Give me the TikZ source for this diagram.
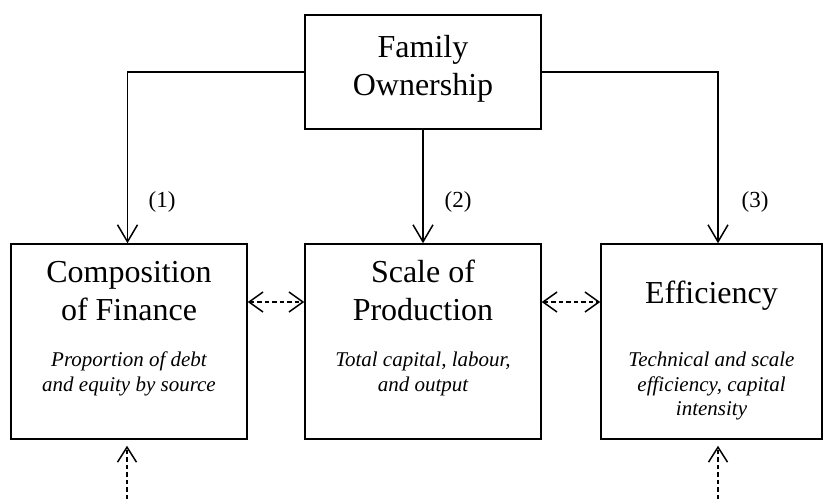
\documentclass[tikz,border=0pt]{standalone}
\usepackage{fontspec}
\setmainfont{Liberation Serif}
\usetikzlibrary{arrows.meta}
\tikzset{
  box/.style={draw, line width=1.5pt, rectangle, inner sep=0pt},
  ttl/.style={anchor=base, inner sep=0pt, font=\fontsize{32}{36.5}\selectfont},
  sub/.style={anchor=base, inner sep=0pt, font=\fontsize{21}{24.4}\selectfont\itshape},
  lbl/.style={anchor=base, inner sep=0pt, font=\fontsize{23}{26}\selectfont},
  arr/.style={line width=1.5pt, -{Straight Barb[length=17pt,width=20pt,line width=1.5pt]}},
  darr/.style={line width=1.5pt, dash pattern=on 4.5pt off 3pt, {Straight Barb[length=14pt,width=20pt,line width=1.5pt]}-{Straight Barb[length=14pt,width=20pt,line width=1.5pt]}},
  uarr/.style={line width=1.5pt, dash pattern=on 4.5pt off 3pt, -{Straight Barb[length=15pt,width=19pt,line width=1.5pt]}}
}
\begin{document}
\begin{tikzpicture}[x=1pt,y=-1pt]
\useasboundingbox (0,0) rectangle (824,499);
% boxes
\node[box, minimum width=236pt, minimum height=114pt] (fam) at (423,72) {};
\node[box, minimum width=236pt, minimum height=195pt] (comp) at (129,341.5) {};
\node[box, minimum width=236pt, minimum height=195pt] (scl) at (423,341.5) {};
\node[box, minimum width=221pt, minimum height=195pt] (eff) at (711.5,341.5) {};
% texts
\node[ttl] (fam1) at (423,57) {Family};
\node[ttl] (fam2) at (423,95) {Ownership};
\node[ttl] (comp1) at (129,282) {Composition};
\node[ttl] (comp2) at (129,320) {of Finance};
\node[sub] (comp3) at (129,366) {Proportion of debt};
\node[sub] (comp4) at (129,391) {and equity by source};
\node[ttl] (scl1) at (423,282) {Scale of};
\node[ttl] (scl2) at (423,320) {Production};
\node[sub] (scl3) at (423,366) {Total capital, labour,};
\node[sub] (scl4) at (423,391) {and output};
\node[ttl] (eff1) at (711.5,303) {Efficiency};
\node[sub] (eff2) at (711.5,366) {Technical and scale};
\node[sub] (eff3) at (711.5,391) {efficiency, capital};
\node[sub] (eff4) at (711.5,415) {intensity};
% labels
\node[lbl] (l1) at (162,207) {(1)};
\node[lbl] (l2) at (458,207) {(2)};
\node[lbl] (l3) at (755,207) {(3)};
% arrows from family
\draw[arr] (fam.west) -| ([xshift=-1.5pt]comp.north);
\draw[arr] (fam.south) -- (scl.north);
\draw[arr] (fam.east) -| ([xshift=6.5pt]eff.north);
% dashed double arrows
\draw[darr] (comp.east |- 0,302) -- (scl.west |- 0,302);
\draw[darr] (scl.east |- 0,302) -- (eff.west |- 0,302);
% dashed up arrows
\coordinate (bl) at (127,499);
\coordinate (br) at (718,499);
\draw[uarr] (bl) -- ([yshift=-6pt]comp.south -| bl);
\draw[uarr] (br) -- ([yshift=-6pt]eff.south -| br);
\end{tikzpicture}
\end{document}
